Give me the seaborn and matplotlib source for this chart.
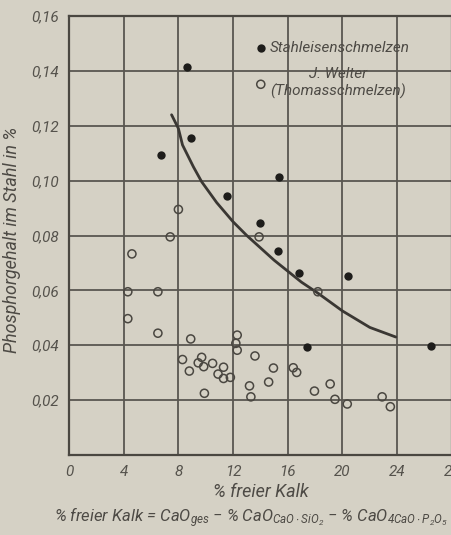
import matplotlib
matplotlib.use("Agg")
import matplotlib.pyplot as plt
import pandas as pd
import seaborn as sns
from matplotlib import font_manager

# Stahleisenschmelzen (filled dots)
stahl_kalk = [8.6, 8.9, 6.75, 15.35, 11.55, 14.0, 15.25, 16.8, 20.4, 26.5, 17.4]
stahl_p = [0.1415, 0.1157, 0.1094, 0.1013, 0.0943, 0.0844, 0.0744, 0.0662, 0.0651, 0.0398, 0.0394]

# J. Welter (Thomasschmelzen) (open circles)
welter_kalk = [4.6, 4.3, 6.5, 4.3, 6.5, 8.9, 12.3, 12.2, 12.3, 13.6, 8.3, 9.7, 9.45,
               9.85, 10.5, 8.8, 11.3, 10.9, 11.3, 11.8, 9.9, 13.2, 13.3, 14.95, 14.6,
               16.4, 16.65, 17.95, 19.1, 19.45, 20.35, 22.9, 23.5, 8.0, 7.4, 13.9, 18.2]
welter_p = [0.0733, 0.0595, 0.0595, 0.0497, 0.0444, 0.0423, 0.0437, 0.0407, 0.0382,
            0.0361, 0.0348, 0.0356, 0.0336, 0.0322, 0.0334, 0.0306, 0.0320, 0.0295,
            0.0279, 0.0283, 0.0225, 0.0252, 0.0212, 0.0317, 0.0266, 0.0318, 0.0301,
            0.0233, 0.0259, 0.0203, 0.0186, 0.0212, 0.0176, 0.0895, 0.0795, 0.0795, 0.0595]

# hand drawn curve
kurve_kalk = [7.5, 8.0, 8.3, 9.1, 9.7, 10.8, 12.0, 13.0, 14.0, 15.0, 16.0, 17.0, 18.2, 20.0, 22.0, 23.9]
kurve_p = [0.124, 0.119, 0.113, 0.105, 0.0996, 0.092, 0.085, 0.080, 0.0755, 0.071,
           0.067, 0.063, 0.059, 0.0525, 0.0465, 0.043]

x_ticks = [0, 4, 8, 12, 16, 20, 24, 28]
y_ticks = [0.02, 0.04, 0.06, 0.08, 0.10, 0.12, 0.14, 0.16]
y_labels = ["0,02", "0,04", "0,06", "0,08", "0,10", "0,12", "0,14", "0,16"]

bg = "#d5d1c5"
grey = "#4d4a45"

sns.set_style("ticks")
names = {f.name for f in font_manager.fontManager.ttflist}
fam = "Roboto" if "Roboto" in names else "DejaVu Sans"
plt.rcParams["font.family"] = [fam, "DejaVu Sans"]
plt.rcParams["font.style"] = "italic"
plt.rcParams["mathtext.fontset"] = "custom"
plt.rcParams["mathtext.rm"] = fam + ":italic"
plt.rcParams["mathtext.it"] = fam + ":italic"

fig = plt.figure(figsize=(4.52, 5.35), dpi=100, facecolor=bg)
ax = fig.add_axes([0.1527, 0.1495, 0.847, 0.8206])
ax.set_facecolor(bg)

df_stahl = pd.DataFrame({"kalk": stahl_kalk, "p": stahl_p})
df_welter = pd.DataFrame({"kalk": welter_kalk, "p": welter_p})
df_kurve = pd.DataFrame({"kalk": kurve_kalk, "p": kurve_p})

sns.lineplot(data=df_kurve, x="kalk", y="p", ax=ax, color="#3a3733", lw=2.0,
             estimator=None, sort=False, zorder=3)
sns.scatterplot(data=df_welter, x="kalk", y="p", ax=ax, marker="o", s=34,
                facecolor="none", edgecolor="#4a4741", linewidth=1.1, zorder=4,
                label="J. Welter\n(Thomasschmelzen)")
sns.scatterplot(data=df_stahl, x="kalk", y="p", ax=ax, marker="o", s=36,
                color="#1e1d1b", edgecolor="#1e1d1b", linewidth=0, zorder=5,
                label="Stahleisenschmelzen")

ax.set_xlim(0, 28)
ax.set_ylim(0, 0.16)
ax.set_xticks(x_ticks)
ax.set_xticklabels([str(v) for v in x_ticks])
ax.set_yticks(y_ticks)
ax.set_yticklabels(y_labels)
ax.tick_params(length=0, labelsize=11, colors="#55524c", pad=7)
ax.grid(True, color="#5a5751", lw=1.3)
for s in ax.spines.values():
    s.set_color("#4a4741")
    s.set_linewidth(1.6)

ax.set_xlabel("% freier Kalk", fontsize=13, color=grey)
ax.xaxis.set_label_coords(0.5, -0.064)
ax.set_ylabel("Phosphorgehalt im Stahl in %", fontsize=13, color=grey)
ax.yaxis.set_label_coords(-0.125, 0.49)

h, l = ax.get_legend_handles_labels()
leg = ax.legend(h[::-1], l[::-1], loc="upper left", bbox_to_anchor=(0.445, 0.975),
                frameon=False, fontsize=11, handletextpad=0.1, labelspacing=0.8,
                handlelength=1.0, markerscale=1.0)
for t in leg.get_texts():
    t.set_color(grey)
leg.get_texts()[1].set_multialignment("center")

fig.text(0.12, 0.024,
         r"% freier Kalk = CaO$_{ges}$ $-$ % CaO$_{CaO\cdot SiO_2}$ $-$ % CaO$_{4CaO\cdot P_2O_5}$",
         fontsize=12, color=grey, ha="left", va="baseline")

fig.savefig("out.png", dpi=100, facecolor=bg)
